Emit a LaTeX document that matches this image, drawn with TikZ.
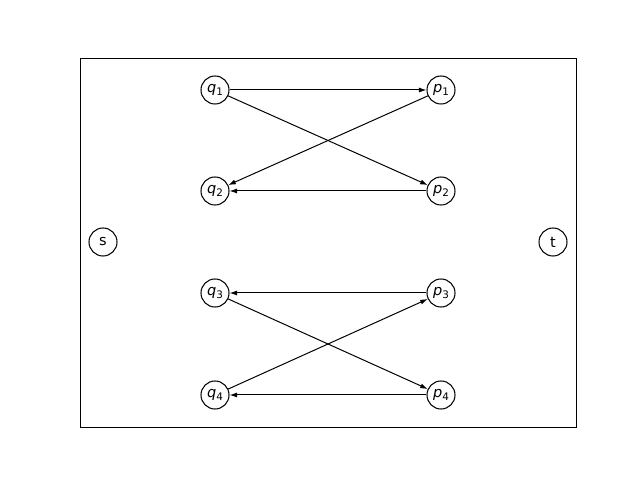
\documentclass[tikz,border=0pt]{standalone}
\usepackage{fontspec}
\setmainfont{DejaVu Sans}
\usetikzlibrary{arrows.meta}
\begin{document}
\begin{tikzpicture}[x=0.01in,y=-0.01in,
  vtx/.style={circle,draw,line width=0.75pt,minimum size=0.28in,inner sep=0pt,font=\fontsize{10.5pt}{12pt}\selectfont},
  edge/.style={line width=0.72pt,-{Latex[length=0.075in,width=0.05in]}}]
\useasboundingbox (0,0) rectangle (640,480);
\draw[line width=0.6pt] (80,58) rectangle (576,427);
\newcommand{\lbl}[2]{\textit{#1}\raisebox{-0.25em}{\fontsize{7.5pt}{8pt}\selectfont #2}}
\node[vtx] (s) at (103,242) {s};
\node[vtx] (t) at (553,242) {t};
\node[vtx] (q1) at (215,90) {\lbl{q}{1}};
\node[vtx] (p1) at (441,90) {\lbl{p}{1}};
\node[vtx] (q2) at (215,191) {\lbl{q}{2}};
\node[vtx] (p2) at (441,191) {\lbl{p}{2}};
\node[vtx] (q3) at (215,293) {\lbl{q}{3}};
\node[vtx] (p3) at (441,293) {\lbl{p}{3}};
\node[vtx] (q4) at (215,395) {\lbl{q}{4}};
\node[vtx] (p4) at (441,395) {\lbl{p}{4}};
\draw[edge] (q1) -- (p1);
\draw[edge] (q1) -- (p2);
\draw[edge] (p1) -- (q2);
\draw[edge] (p2) -- (q2);
\draw[edge] (p3) -- (q3);
\draw[edge] (q3) -- (p4);
\draw[edge] (q4) -- (p3);
\draw[edge] (p4) -- (q4);
\end{tikzpicture}
\end{document}
